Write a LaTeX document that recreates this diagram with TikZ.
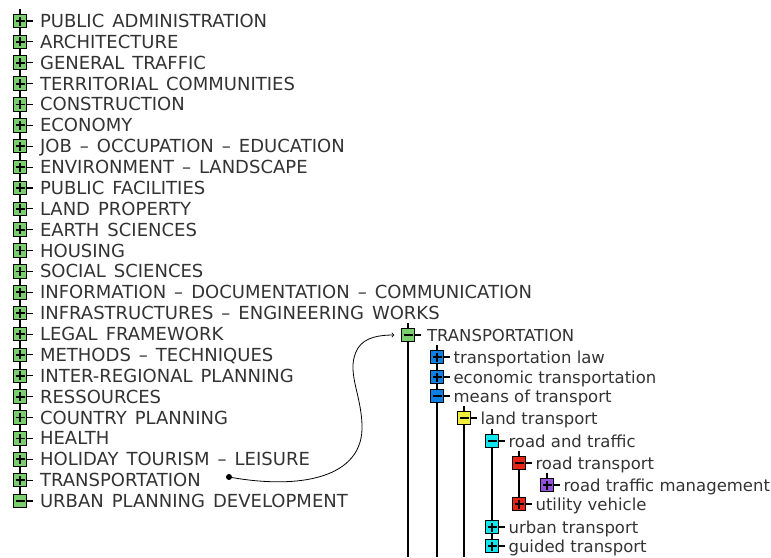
\documentclass[tikz,border=0pt]{standalone}
\usepackage{fontspec}
\setmainfont{DejaVu Sans}[WordSpace=1.4]
\newfontfamily\treefont{DejaVu Sans}
\usepackage{xcolor}
\usepackage{tikz}
\usetikzlibrary{arrows,calc}

\definecolor{tgreen}{RGB}{122,206,110}
\definecolor{tblue}{RGB}{14,128,228}
\definecolor{tyellow}{RGB}{242,236,60}
\definecolor{tcyan}{RGB}{20,228,236}
\definecolor{tred}{RGB}{230,36,24}
\definecolor{tpurple}{RGB}{150,80,222}

\begin{document}
\begin{tikzpicture}[x=1pt,y=-1pt,line width=1.1pt,
  tbox/.style={draw=black,line width=1pt,minimum size=12.5pt,inner sep=0pt},
  bigbox/.style={minimum size=13.5pt},
  minusbox/.style={tbox,path picture={
    \draw[line width=1.8pt] ($(path picture bounding box.center)+(-4.5pt,0)$) -- +(9pt,0);}},
  plusbox/.style={tbox,path picture={
    \draw[line width=1.8pt] ($(path picture bounding box.center)+(-4.5pt,0)$) -- +(9pt,0)
      ($(path picture bounding box.center)+(0,-4.5pt)$) -- +(0,9pt);}},
  bigtxt/.style={anchor=base west,inner sep=0pt,text=black!80,font=\fontsize{18}{18}\selectfont},
  smalltxt/.style={anchor=base west,inner sep=0pt,text=black!80,font=\treefont\fontsize{16.5}{17}\selectfont}]
\useasboundingbox (0,0) rectangle (771,557);

\coordinate (ltop) at (20,9);
\foreach \t [count=\i] in {PUBLIC ADMINISTRATION,ARCHITECTURE,GENERAL TRAFFIC,
  TERRITORIAL COMMUNITIES,CONSTRUCTION,ECONOMY,JOB – OCCUPATION – EDUCATION,
  ENVIRONMENT – LANDSCAPE,PUBLIC FACILITIES,LAND PROPERTY,EARTH SCIENCES,HOUSING,
  SOCIAL SCIENCES,INFORMATION – DOCUMENTATION – COMMUNICATION,
  INFRASTRUCTURES – ENGINEERING WORKS,LEGAL FRAMEWORK,METHODS – TECHNIQUES,
  INTER-REGIONAL PLANNING,RESSOURCES,COUNTRY PLANNING,HEALTH,
  HOLIDAY TOURISM – LEISURE,TRANSPORTATION}
{
  \node[plusbox,bigbox,fill=tgreen] (l\i) at (20,{21+20.87*(\i-1)}) {};
  \node[bigtxt] (lt\i) at (39.5,{27.5+20.87*(\i-1)}) {\t};
  \draw (l\i.east) -- +(6pt,0);
}
\node[minusbox,bigbox,fill=tgreen] (l24) at (20,{21+20.87*23}) {};
\node[bigtxt] (lt24) at (39.5,{27.5+20.87*23}) {URBAN PLANNING DEVELOPMENT};
\draw (l24.east) -- +(6pt,0);
\draw (ltop) -- (l1);
\foreach \i [count=\j from 2] in {1,...,23}
  \draw (l\i) -- (l\j);

\node[minusbox,fill=tgreen] (r0) at (408,335) {};
\node[smalltxt] (rt0) at (426.5,341) {TRANSPORTATION};
\node[plusbox,fill=tblue] (r1) at (437,357) {};
\node[smalltxt] (rt1) at (453,363) {transportation law};
\node[plusbox,fill=tblue] (r2) at (437,377) {};
\node[smalltxt] (rt2) at (453,383) {economic transportation};
\node[minusbox,fill=tblue] (r3) at (437,396) {};
\node[smalltxt] (rt3) at (453,402) {means of transport};
\node[minusbox,fill=tyellow] (r4) at (464,418) {};
\node[smalltxt] (rt4) at (480,424) {land transport};
\node[minusbox,fill=tcyan] (r5) at (492,441) {};
\node[smalltxt] (rt5) at (508,447) {road and traffic};
\node[minusbox,fill=tred] (r6) at (519,463) {};
\node[smalltxt] (rt6) at (535,469) {road transport};
\node[plusbox,fill=tpurple] (r7) at (547,485) {};
\node[smalltxt] (rt7) at (563,491) {road traffic management};
\node[plusbox,fill=tred] (r8) at (519,504) {};
\node[smalltxt] (rt8) at (535,510) {utility vehicle};
\node[plusbox,fill=tcyan] (r9) at (492,527) {};
\node[smalltxt] (rt9) at (508,533) {urban transport};
\node[plusbox,fill=tcyan] (r10) at (492,546) {};
\node[smalltxt] (rt10) at (508,552) {guided transport};

\foreach \i in {0,...,10}{
  \draw (r\i.north) -- +(0,-5);
  \draw (r\i.east) -- +(6,0);
}
\coordinate (b0) at (408,557);
\coordinate (b3) at (437,557);
\coordinate (b4) at (464,557);
\draw (r0) -- (b0);
\draw (r3) -- (b3);
\draw (r4) -- (b4);
\draw (r1) -- (r2) -- (r3);
\draw (r5) -- (r9) -- (r10);
\draw (r6) -- (r8);

\fill (229,477) circle (3pt) coordinate (src);
\draw[line width=0.8pt,-to,shorten >=7pt] (src) .. controls (300,490) and (364,478) .. (362,425)
  .. controls (361,392) and (345,370) .. (358,348) .. controls (365,337) and (380,335) .. (r0.west);
\end{tikzpicture}
\end{document}
